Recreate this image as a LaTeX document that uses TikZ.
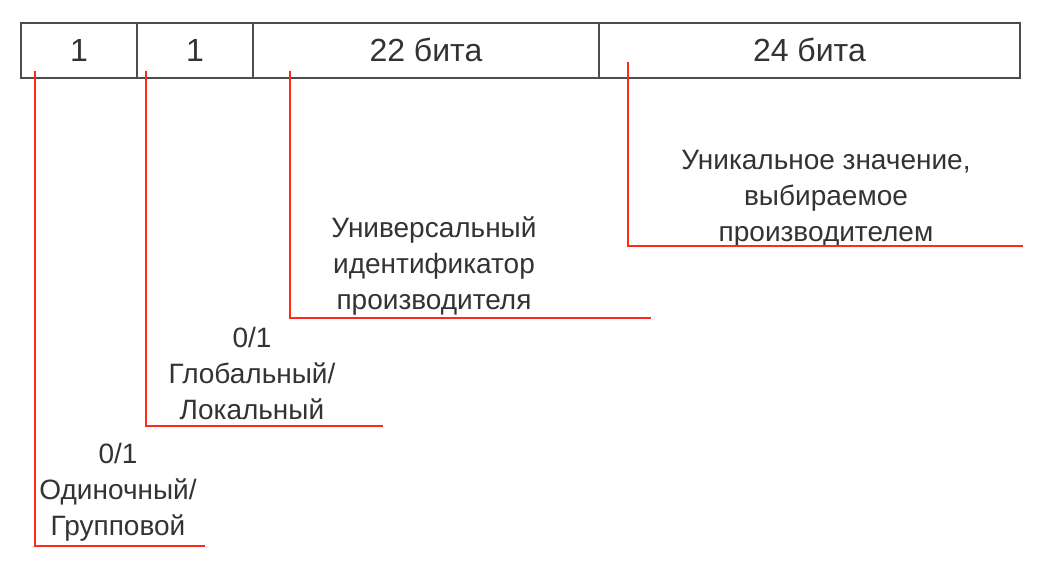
\documentclass[tikz,border=0pt]{standalone}
\usepackage{fontspec}
\setmainfont{Liberation Sans}
\begin{document}
\begin{tikzpicture}[x=1pt,y=-1pt,
  cell/.style={draw=boxgray, line width=1.8pt, minimum height=55pt, inner sep=0pt,
    anchor=north west, text=txt, font=\fontsize{32}{38}\selectfont},
  lbl/.style={align=center, inner sep=0pt, text=txt, font=\fontsize{28}{36}\selectfont},
  redline/.style={draw=mark, line width=2.8pt}]
\definecolor{boxgray}{HTML}{4D4D4D}
\definecolor{txt}{HTML}{333333}
\definecolor{mark}{HTML}{FF2A1A}
\useasboundingbox (0,0) rectangle (1037,567);

% bit fields of the address
\node[cell, minimum width=116pt] (c1) at (20,22) {1};
\node[cell, minimum width=116pt] (c2) at (136,22) {1};
\node[cell, minimum width=346pt] (c3) at (252,22) {22 бита};
\node[cell, minimum width=421pt] (c4) at (598,22) {24 бита};

% descriptions
\node[lbl] (l1) at (118,492) {0/1\\Одиночный/\\Групповой};
\node[lbl] (l2) at (252,373) {0/1\\Глобальный/\\Локальный};
\node[lbl] (l3) at (434,266) {Универсальный\\идентификатор\\производителя};
\node[lbl] (l4) at (826,199) {Уникальное значение,\\выбираемое\\производителем};

% leader lines
\coordinate (s1) at (35,71);   \coordinate (e1) at (205,546);
\coordinate (s2) at (146,71);  \coordinate (e2) at (383,426);
\coordinate (s3) at (290,71);  \coordinate (e3) at (651,318);
\coordinate (s4) at (628,62);  \coordinate (e4) at (1023,246);
\draw[redline] (s1) |- (e1);
\draw[redline] (s2) |- (e2);
\draw[redline] (s3) |- (e3);
\draw[redline] (s4) |- (e4);
\end{tikzpicture}
\end{document}
